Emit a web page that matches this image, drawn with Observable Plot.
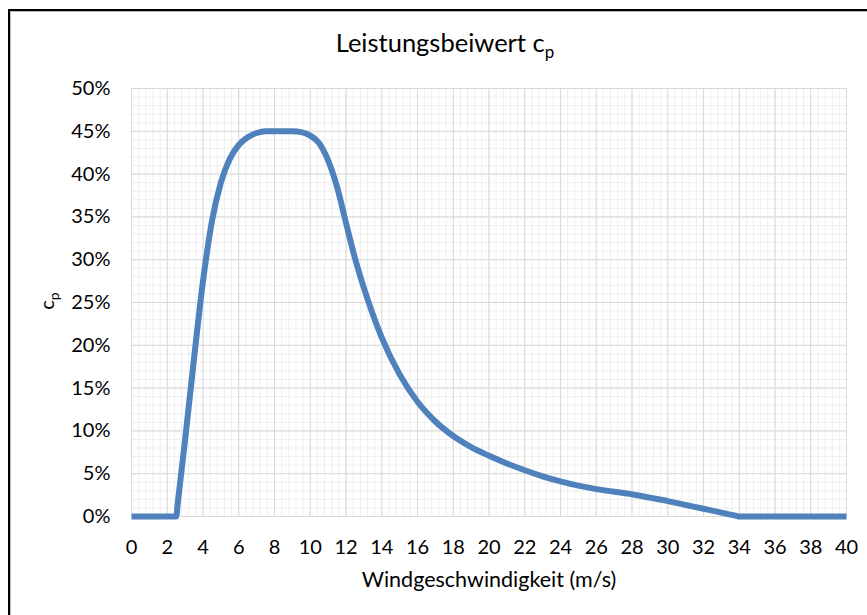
<!DOCTYPE html>
<html><head><meta charset="utf-8">
<script src="https://cdn.jsdelivr.net/npm/d3@7"></script>
<script src="https://cdn.jsdelivr.net/npm/@observablehq/plot@0.6"></script>
<style>
body{margin:0;background:#fff;}
#wrap{position:relative;width:867px;height:615px;overflow:hidden;background:#fff;}
#frame{position:absolute;left:8px;top:9px;width:920px;height:700px;border:2px solid #000;box-sizing:border-box;box-shadow:inset 1px 1px 0 #bbb;}
#chart{position:absolute;left:0;top:0;}
</style></head><body>
<div id="wrap"><div id="frame"></div><div id="chart"></div></div>
<script>
const windSpeed = [0,1,2,2.5,2.6,3,3.5,4,4.5,5,5.5,6,6.5,7,7.5,8,9,9.5,10,10.5,11,11.5,12,12.5,13,14,15,16,17,18,19,20,21,22,23,24,25,26,27,28,29,30,31,32,33,33.9,34,35,36,37,38,39,40];
const cpValues  = [0,0,0,0,1.8,9,18.5,27.5,34.5,39,41.8,43.4,44.3,44.8,45,45,45,44.9,44.5,43.6,41.6,38.5,34.3,30.2,26.7,20.9,16.6,13.4,11.1,9.4,8.1,7.1,6.2,5.4,4.7,4.1,3.6,3.2,2.9,2.6,2.2,1.8,1.35,0.9,0.45,0.04,0,0,0,0,0,0,0];
const xTicks = [0,2,4,6,8,10,12,14,16,18,20,22,24,26,28,30,32,34,36,38,40];
const yTicks = [0,5,10,15,20,25,30,35,40,45,50];
const titleText = "Leistungsbeiwert c";
const titleSub = "p";
const xLabel = "Windgeschwindigkeit (m/s)";
const yLabel = "c";
const ySub = "p";

const data = windSpeed.map((v,i)=>({v, cp: cpValues[i]}));
const xMinor = d3.range(0, 40.001, 0.4);
const yMinor = d3.range(0, 50.001, 1);
const font = "Lato, 'Open Sans', sans-serif";

const plot = Plot.plot({
  width: 867, height: 615,
  marginLeft: 131, marginRight: 21, marginTop: 88, marginBottom: 99,
  style: {fontFamily: font, fontSize: "20px", background: "transparent", color: "#000", overflow: "visible"},
  x: {domain: [0, 40], ticks: xTicks, tickFormat: d => String(d), tickSize: 0, tickPadding: 23, label: null},
  y: {domain: [0, 50], ticks: yTicks, tickFormat: d => d + "%", tickSize: 0, tickPadding: 21, label: null},
  marks: [
    Plot.gridX(xMinor, {stroke: "#efefef", strokeOpacity: 1}),
    Plot.gridY(yMinor, {stroke: "#efefef", strokeOpacity: 1}),
    Plot.gridX(xTicks, {stroke: "#d9d9d9", strokeOpacity: 1}),
    Plot.gridY(yTicks, {stroke: "#d9d9d9", strokeOpacity: 1}),
    Plot.line(data, {x: "v", y: "cp", curve: "monotone-x", stroke: "#4f81bd", strokeWidth: 6, strokeLinejoin: "round", strokeLinecap: "butt"})
  ]
});
document.getElementById("chart").appendChild(plot);

const svg = d3.select(plot);
const t = svg.append("text").attr("x", 445).attr("y", 52).attr("text-anchor", "middle")
  .attr("font-family", font).attr("font-size", 25.5).attr("fill", "#000");
t.append("tspan").text(titleText);
t.append("tspan").attr("dy", 6).attr("font-size", 17).text(titleSub);

svg.append("text").attr("x", 489).attr("y", 587).attr("text-anchor", "middle")
  .attr("font-family", font).attr("font-size", 21.5).attr("fill", "#000").text(xLabel);

const yl = svg.append("text").attr("transform", "translate(54,301) rotate(-90)").attr("text-anchor", "middle")
  .attr("font-family", font).attr("font-size", 20).attr("fill", "#000");
yl.append("tspan").text(yLabel);
yl.append("tspan").attr("dy", 5).attr("font-size", 14).text(ySub);
</script>
</body></html>
